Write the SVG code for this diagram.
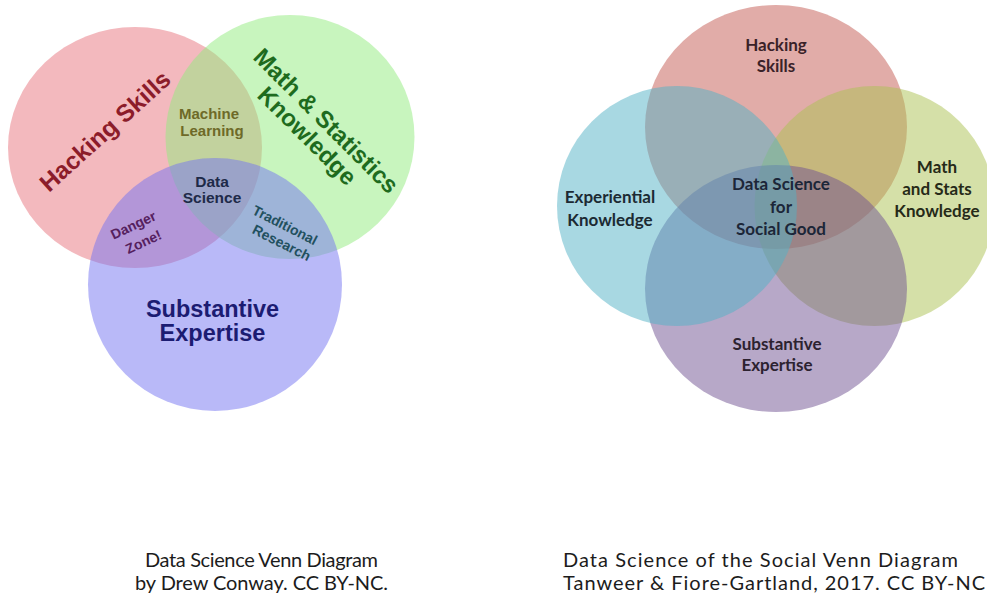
<svg xmlns="http://www.w3.org/2000/svg" width="987" height="599" viewBox="0 0 987 599">
  <style>
    .conway { font-family: "Liberation Sans", Arial, sans-serif; font-weight: 700; text-anchor: middle; }
    .social { font-family: Lato, "Open Sans", sans-serif; font-weight: 700; font-size: 17px; text-anchor: middle; }
    .caption { font-family: Lato, "Open Sans", sans-serif; font-size: 20px; fill: #1c1c1c; }
    .set { fill-opacity: 0.5; }
  </style>
  <rect width="987" height="599" fill="#ffffff"/>

  <!-- Left: three-set Venn diagram -->
  <g id="conway-venn">
    <g id="hacking-skills">
      <ellipse class="set" cx="135" cy="147.5" rx="127" ry="120.5" fill="#e7737d"/>
    </g>
    <g id="math-statistics">
      <ellipse class="set" cx="290" cy="137" rx="124.5" ry="122" fill="#91eb7d"/>
    </g>
    <g id="substantive-expertise">
      <ellipse class="set" cx="215" cy="284.5" rx="127" ry="126.5" fill="#7373f1"/>
    </g>

    <g id="label-hacking" class="conway" transform="translate(105 131) rotate(-42)">
      <text x="0" y="8.5" font-size="24.5" fill="#8c1c2a">Hacking Skills</text>
    </g>
    <g id="label-math" class="conway" transform="translate(316.5 128.5) rotate(45)" font-size="24" fill="#1e6b1e">
      <text x="1.4" y="-4">Math &amp; Statistics</text>
      <text x="-1.4" y="20">Knowledge</text>
    </g>
    <g id="machine-learning" class="conway" font-size="15" fill="#6e6a28">
      <text x="209" y="119.3">Machine</text>
      <text x="212" y="136">Learning</text>
    </g>
    <g id="data-science" class="conway" font-size="15.5" fill="#1e2a48">
      <text x="212" y="186.7">Data</text>
      <text x="212" y="202.7">Science</text>
    </g>
    <g id="danger-zone" class="conway" font-size="14" fill="#55205e">
      <text transform="translate(133.3 225) rotate(-25)" y="5">Danger</text>
      <text transform="translate(143.3 241.7) rotate(-25)" y="5">Zone!</text>
    </g>
    <g id="traditional-research" class="conway" font-size="14" fill="#22505e">
      <text transform="translate(285 225) rotate(27)" y="5">Traditional</text>
      <text transform="translate(281.7 242.7) rotate(27)" y="5">Research</text>
    </g>
    <g id="label-substantive" class="conway" font-size="23.5" fill="#1c1c72">
      <text x="212.5" y="316.7">Substantive</text>
      <text x="212.5" y="341">Expertise</text>
    </g>
  </g>

  <!-- Right: four-set Venn diagram -->
  <g id="social-venn">
    <g id="s-hacking">
      <ellipse class="set" cx="776" cy="127" rx="131" ry="122" fill="#c35951"/>
    </g>
    <g id="s-math">
      <circle class="set" cx="874.5" cy="206" r="120" fill="#abc151"/>
    </g>
    <g id="s-substantive">
      <ellipse class="set" cx="776" cy="288.5" rx="131" ry="123.5" fill="#6f5191"/>
    </g>
    <g id="s-experiential">
      <circle class="set" cx="677" cy="206" r="120" fill="#51b1c5"/>
    </g>

    <g id="s-label-hacking" class="social" fill="#3a2228">
      <text x="776" y="51">Hacking</text>
      <text x="776" y="72">Skills</text>
    </g>
    <g id="s-label-experiential" class="social" fill="#1c2a33">
      <text x="610" y="203">Experiential</text>
      <text x="610" y="226">Knowledge</text>
    </g>
    <g id="s-label-math" class="social" fill="#262a18">
      <text x="937" y="173">Math</text>
      <text x="937" y="195">and Stats</text>
      <text x="937" y="217">Knowledge</text>
    </g>
    <g id="s-label-center" class="social" fill="#1c2638">
      <text x="781" y="190">Data Science</text>
      <text x="781" y="213">for</text>
      <text x="781" y="235">Social Good</text>
    </g>
    <g id="s-label-substantive" class="social" fill="#2c2230">
      <text x="777" y="350">Substantive</text>
      <text x="777" y="371">Expertise</text>
    </g>
  </g>

  <!-- Captions -->
  <g id="caption-left" class="caption">
    <text x="145" y="567" textLength="233" lengthAdjust="spacing">Data Science Venn Diagram</text>
    <text x="135" y="590" textLength="253" lengthAdjust="spacing">by Drew Conway. CC BY-NC.</text>
  </g>
  <g id="caption-right" class="caption">
    <text x="563" y="567" textLength="395" lengthAdjust="spacing">Data Science of the Social Venn Diagram</text>
    <text x="563" y="590" textLength="422" lengthAdjust="spacing">Tanweer &amp; Fiore-Gartland, 2017. CC BY-NC</text>
  </g>
</svg>
